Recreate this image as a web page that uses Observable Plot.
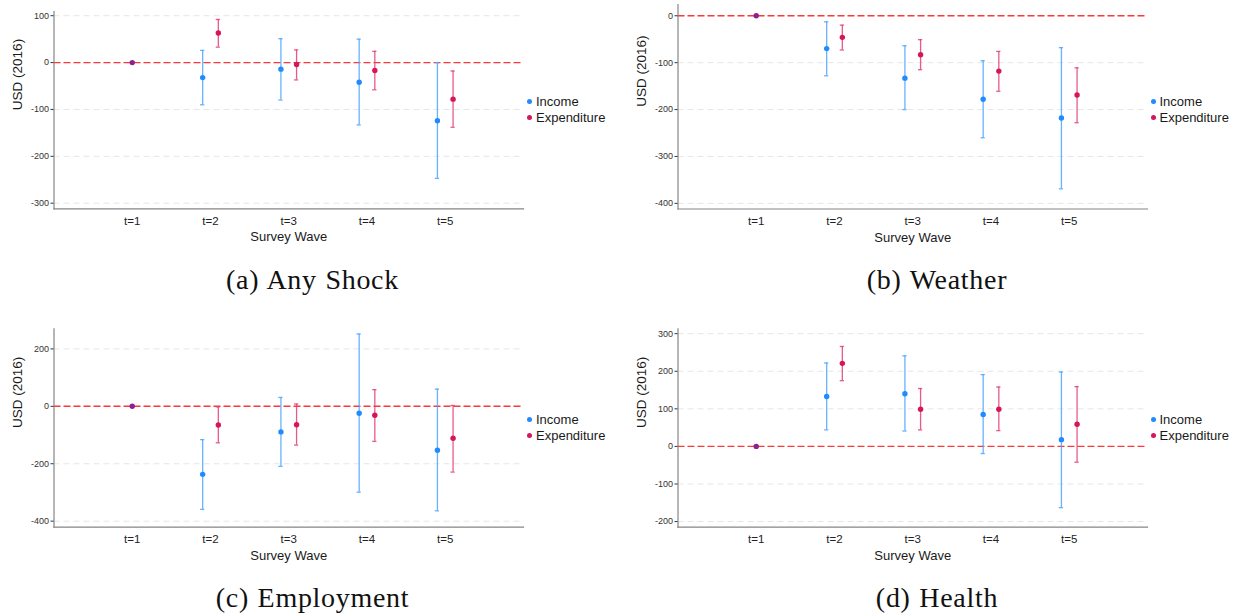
<!DOCTYPE html>
<html><head><meta charset="utf-8">
<script src="https://cdn.jsdelivr.net/npm/d3@7"></script>
<script src="https://cdn.jsdelivr.net/npm/@observablehq/plot@0.6"></script>
<style>
body{margin:0;background:#fff;}
#page{position:relative;width:1241px;height:616px;overflow:hidden;background:#fff;font-family:"Liberation Sans",Arial,sans-serif;}
.panel{position:absolute;}
.legend{position:absolute;font-size:13px;color:#1a1a1a;}
.legend .row{display:flex;align-items:center;height:16.3px;white-space:nowrap;}
.legend .dot{width:5px;height:5px;border-radius:50%;margin-right:4px;margin-left:-2.5px;}
.caption{position:absolute;font-family:"Liberation Serif",serif;font-size:28px;line-height:28px;color:#111;transform:translateX(-50%);white-space:nowrap;letter-spacing:0.7px;word-spacing:1px;}
</style></head>
<body><div id="page"></div>
<script>
// ---- data ----
const waves = [2, 3, 4, 5];
const tickWaves = [1, 2, 3, 4, 5];
const tickLabels = ["t=1", "t=2", "t=3", "t=4", "t=5"];
const baseWave = [1];
const baseValue = [0];
const refValue = [0];
const seriesNames = ["Income", "Expenditure"];
const seriesColors = ["#1f8bff", "#d6155c"];
const barColors = ["#4ea4ff", "#e03f77"];
const bothColor = "#8c228e";
const captions = ["(a) Any Shock", "(b) Weather", "(c) Employment", "(d) Health"];
const yLabel = "USD (2016)";
const xLabel = "Survey Wave";

// Panel (a) Any Shock
const anyIncEst = [-32, -14, -42, -124];
const anyIncLo  = [-90, -80, -133, -247];
const anyIncHi  = [26, 51, 50, 0];
const anyExpEst = [63, -4, -17, -78];
const anyExpLo  = [33, -37, -58, -138];
const anyExpHi  = [92, 27, 24, -18];
const anyTicks  = [100, 0, -100, -200, -300];

// Panel (b) Weather
const wthIncEst = [-70, -133, -178, -218];
const wthIncLo  = [-128, -200, -260, -369];
const wthIncHi  = [-13, -64, -96, -68];
const wthExpEst = [-46, -83, -118, -169];
const wthExpLo  = [-73, -115, -161, -228];
const wthExpHi  = [-20, -51, -76, -111];
const wthTicks  = [0, -100, -200, -300, -400];

// Panel (c) Employment
const empIncEst = [-237, -89, -24, -153];
const empIncLo  = [-359, -209, -299, -364];
const empIncHi  = [-116, 31, 252, 60];
const empExpEst = [-65, -64, -31, -111];
const empExpLo  = [-127, -135, -122, -229];
const empExpHi  = [-2, 8, 58, 3];
const empTicks  = [200, 0, -200, -400];

// Panel (d) Health
const hltIncEst = [133, 140, 85, 18];
const hltIncLo  = [44, 41, -19, -163];
const hltIncHi  = [222, 241, 191, 198];
const hltExpEst = [221, 99, 99, 59];
const hltExpLo  = [175, 44, 42, -42];
const hltExpHi  = [266, 154, 158, 159];
const hltTicks  = [300, 200, 100, 0, -100, -200];

const panels = [
  {inc:[anyIncEst, anyIncLo, anyIncHi], exp:[anyExpEst, anyExpLo, anyExpHi], ticks:anyTicks, domain:[-312, 109],
   left:0, top:0, mt:11, mb:41.7, legend:[529.5, 93], cap:[312.5, 266]},
  {inc:[wthIncEst, wthIncLo, wthIncHi], exp:[wthExpEst, wthExpLo, wthExpHi], ticks:wthTicks, domain:[-412, 24],
   left:624, top:0, mt:4, mb:41.5, legend:[1153, 93], cap:[937, 266]},
  {inc:[empIncEst, empIncLo, empIncHi], exp:[empExpEst, empExpLo, empExpHi], ticks:empTicks, domain:[-421, 270],
   left:0, top:320, mt:8.3, mb:43.3, legend:[529.5, 411.5], cap:[312.5, 584]},
  {inc:[hltIncEst, hltIncLo, hltIncHi], exp:[hltExpEst, hltExpLo, hltExpHi], ticks:hltTicks, domain:[-215, 313],
   left:624, top:320, mt:8.3, mb:43.3, legend:[1153, 411.5], cap:[937, 584]}
];

const page = document.getElementById("page");
const dodge = {Income: -0.1, Expenditure: 0.1};
const capHalf = 0.027;

panels.forEach((p, k) => {
  const rows = [];
  waves.forEach((w, i) => {
    rows.push({series: seriesNames[0], wave: w, est: p.inc[0][i], lo: p.inc[1][i], hi: p.inc[2][i]});
    rows.push({series: seriesNames[1], wave: w, est: p.exp[0][i], lo: p.exp[1][i], hi: p.exp[2][i]});
  });
  const base = baseWave.map((w, i) => ({wave: w, est: baseValue[i]}));
  const xOf = d => d.wave + dodge[d.series];
  const barScale = d => barColors[seriesNames.indexOf(d.series)];
  const ptScale = d => seriesColors[seriesNames.indexOf(d.series)];
  const H = 250;
  const chart = Plot.plot({
    width: 532, height: H,
    marginLeft: 53.5, marginRight: 9, marginTop: p.mt, marginBottom: p.mb,
    x: {domain: [0, 6], axis: null},
    y: {domain: p.domain, axis: null},
    style: {fontFamily: "'Liberation Sans', Arial, sans-serif", background: "transparent", overflow: "visible"},
    marks: [
      Plot.gridY(p.ticks, {stroke: "#e6e6e6", strokeOpacity: 1, strokeDasharray: "6,4", strokeWidth: 1}),
      Plot.ruleY(refValue, {stroke: "#ff3838", strokeWidth: 1.4, strokeDasharray: "7,3"}),
      Plot.frame({anchor: "left", stroke: "#858585", strokeWidth: 1.2}),
      Plot.frame({anchor: "bottom", stroke: "#858585", strokeWidth: 1.2}),
      Plot.axisY({ticks: p.ticks, tickSize: 3, tickPadding: 2, fontSize: 9, color: "#333", label: null, tickFormat: d => String(d).replace("−", "-")}),
      Plot.axisX({ticks: tickWaves, tickSize: 0, tickPadding: 8, fontSize: 11.5, color: "#222", label: null,
        tickFormat: d => tickLabels[tickWaves.indexOf(d)]}),
      Plot.text([xLabel], {frameAnchor: "bottom", lineAnchor: "middle", dy: 28.5, fontSize: 13, fill: "#1a1a1a"}),
      Plot.text([yLabel], {frameAnchor: "left", lineAnchor: "middle", dx: -36.5, rotate: -90, fontSize: 13.5, fill: "#1a1a1a"}),
      Plot.ruleX(rows, {x: xOf, y1: "lo", y2: "hi", stroke: barScale, strokeWidth: 1.3, strokeOpacity: 0.85}),
      Plot.ruleY(rows, {y: "lo", x1: d => xOf(d) - capHalf, x2: d => xOf(d) + capHalf, stroke: barScale, strokeWidth: 1.3, strokeOpacity: 0.85}),
      Plot.ruleY(rows, {y: "hi", x1: d => xOf(d) - capHalf, x2: d => xOf(d) + capHalf, stroke: barScale, strokeWidth: 1.3, strokeOpacity: 0.85}),
      Plot.dot(rows, {x: xOf, y: "est", r: 2.7, fill: ptScale, stroke: null}),
      Plot.dot(base, {x: "wave", y: "est", r: 2.7, fill: bothColor, stroke: null})
    ]
  });
  chart.classList.add("panel");
  chart.style.left = p.left + "px";
  chart.style.top = p.top + "px";
  page.appendChild(chart);

  const lg = document.createElement("div");
  lg.className = "legend";
  lg.style.left = p.legend[0] + "px";
  lg.style.top = p.legend[1] + "px";
  seriesNames.forEach((s, i) => {
    const r = document.createElement("div");
    r.className = "row";
    const dot = document.createElement("span");
    dot.className = "dot";
    dot.style.background = seriesColors[i];
    r.appendChild(dot);
    r.appendChild(document.createTextNode(s));
    lg.appendChild(r);
  });
  page.appendChild(lg);

  const cp = document.createElement("div");
  cp.className = "caption";
  cp.style.left = p.cap[0] + "px";
  cp.style.top = p.cap[1] + "px";
  cp.textContent = captions[k];
  page.appendChild(cp);
});
</script>
</body></html>
